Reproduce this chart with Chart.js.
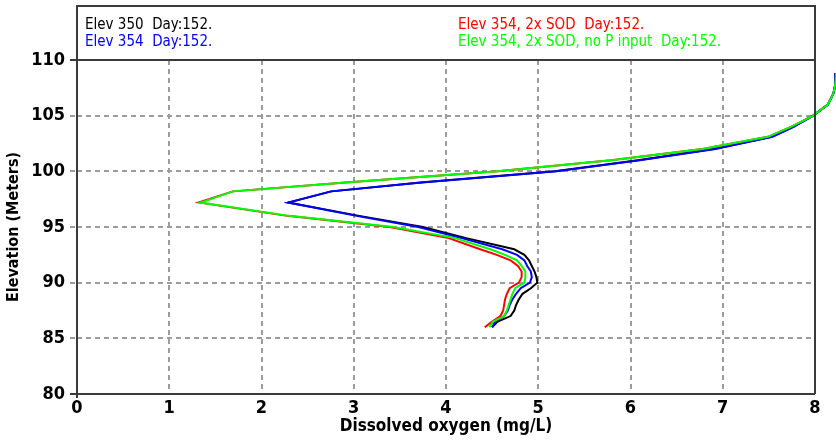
<!DOCTYPE html>
<html>
<head>
<meta charset="utf-8">
<script src="https://cdn.jsdelivr.net/npm/chart.js@4.4.1/dist/chart.umd.min.js"></script>
<style>
  html, body { margin: 0; padding: 0; background: #fff; }
  #wrap { width: 836px; height: 440px; }
</style>
</head>
<body>
<div id="wrap"><canvas id="profile" width="836" height="440"></canvas></div>
<script>
// layer elevations (m) shared by every profile
var elevation = [86, 86.5, 87, 87.5, 88, 88.5, 89, 89.5, 90, 90.5, 91, 91.5, 92, 92.5, 93,
                 94, 95, 96, 97.2, 98.2, 99, 100, 101, 102, 103.1, 104, 105, 106, 107, 107.8, 108.8];

// dissolved oxygen (mg/L) on day 152
var doElev350 = [4.50, 4.56, 4.70, 4.74, 4.76, 4.79, 4.83, 4.92, 4.99, 4.98, 4.96, 4.93, 4.90, 4.85, 4.74,
                 4.22, 3.75, 3.06, 2.29, 2.76, 3.72, 5.18, 6.08, 6.90, 7.53, 7.76, 7.98, 8.14, 8.20, 8.22, 8.22];
var doElev354 = [4.50, 4.53, 4.63, 4.67, 4.69, 4.72, 4.76, 4.81, 4.91, 4.93, 4.92, 4.88, 4.85, 4.77, 4.61,
                 4.17, 3.70, 3.03, 2.29, 2.75, 3.74, 5.20, 6.10, 6.92, 7.54, 7.77, 7.98, 8.14, 8.20, 8.22, 8.22];
var doSod2x    = [4.42, 4.50, 4.59, 4.62, 4.63, 4.64, 4.66, 4.69, 4.79, 4.82, 4.82, 4.78, 4.70, 4.55, 4.37,
                 4.03, 3.39, 2.28, 1.32, 1.69, 2.91, 4.56, 5.79, 6.78, 7.49, 7.74, 7.98, 8.14, 8.20, 8.22, 8.23];
var doSod2xNoP = [4.47, 4.51, 4.63, 4.66, 4.68, 4.70, 4.72, 4.75, 4.85, 4.86, 4.86, 4.82, 4.77, 4.64, 4.48,
                 4.10, 3.43, 2.30, 1.34, 1.69, 2.91, 4.56, 5.79, 6.78, 7.49, 7.74, 7.98, 8.14, 8.20, 8.22, 8.23];

var seriesNames = ['Elev 350  Day:152.', 'Elev 354  Day:152.',
                   'Elev 354, 2x SOD  Day:152.', 'Elev 354, 2x SOD, no P input  Day:152.'];
var seriesColors = ['#000000', '#0000ff', '#ff0000', '#00ff00'];

var NARROW = '"Liberation Sans Narrow", "DejaVu Sans Condensed", "Arial Narrow", sans-serif';

function profile(values) {
  return elevation.map(function (e, i) { return { x: values[i], y: e }; });
}

// frame + legend box drawn around the plot
var framePlugin = {
  id: 'frame',
  afterDraw: function (chart) {
    var ctx = chart.ctx, a = chart.chartArea;
    ctx.save();
    ctx.strokeStyle = '#3a3a3a';
    ctx.lineWidth = 2;
    ctx.beginPath();
    // legend box
    ctx.moveTo(a.left, a.top);
    ctx.lineTo(a.left, 6);
    ctx.lineTo(a.right, 6);
    ctx.lineTo(a.right, a.bottom);
    // top and bottom lines reach out to the tick marks
    ctx.moveTo(a.left - 7, a.top);
    ctx.lineTo(a.right, a.top);
    ctx.moveTo(a.left - 7, a.bottom);
    ctx.lineTo(a.right, a.bottom);
    ctx.moveTo(a.left, a.top);
    ctx.lineTo(a.left, a.bottom + 4);
    ctx.stroke();

    // legend entries, two columns
    ctx.font = '15px ' + NARROW;
    ctx.textBaseline = 'middle';
    ctx.textAlign = 'left';
    var cols = [a.left + 8, 458];
    var rows = [25, 42];
    var ds = chart.data.datasets;
    for (var i = 0; i < ds.length; i++) {
      ctx.fillStyle = ds[i].borderColor;
      ctx.fillText(ds[i].label, cols[Math.floor(i / 2)], rows[i % 2]);
    }
    ctx.restore();
  }
};

var datasets = [doElev350, doElev354, doSod2x, doSod2xNoP].map(function (vals, i) {
  return {
    label: seriesNames[i],
    data: profile(vals),
    borderColor: seriesColors[i],
    backgroundColor: seriesColors[i],
    borderWidth: 2,
    pointRadius: 0,
    showLine: true,
    clip: false,
    order: [3, 1, 2, 0][i]
  };
});

var gridStyle = {
  color: '#9c9c9c',
  lineWidth: 2,
  tickColor: '#9c9c9c',
  tickBorderDash: [5, 4]
};

new Chart(document.getElementById('profile'), {
  type: 'scatter',
  data: { datasets: datasets },
  options: {
    responsive: false,
    animation: false,
    layout: { padding: { top: 60, right: 21, left: 0, bottom: 0 } },
    plugins: { legend: { display: false }, tooltip: { enabled: false } },
    scales: {
      x: {
        type: 'linear', min: 0, max: 8,
        afterFit: function (s) { s.height = 46; },
        ticks: { stepSize: 1, color: '#000', padding: 4, font: { family: NARROW, size: 18, weight: 'bold' } },
        grid: Object.assign({ drawTicks: false }, gridStyle),
        border: { display: false, dash: [5, 4] },
        title: { display: true, text: 'Dissolved oxygen (mg/L)', color: '#000', padding: { top: 0, bottom: 3 },
                 font: { family: NARROW, size: 17, weight: 'bold' } }
      },
      y: {
        type: 'linear', min: 80, max: 110,
        afterFit: function (s) { s.width = 77; },
        ticks: { stepSize: 5, color: '#000', padding: 5, font: { family: NARROW, size: 18, weight: 'bold' } },
        grid: Object.assign({ tickLength: 7 }, gridStyle),
        border: { display: false, dash: [5, 4] },
        title: { display: true, text: 'Elevation (Meters)', color: '#000', padding: 4,
                 font: { family: NARROW, size: 16, weight: 'bold' } }
      }
    }
  },
  plugins: [framePlugin]
});
</script>
</body>
</html>
